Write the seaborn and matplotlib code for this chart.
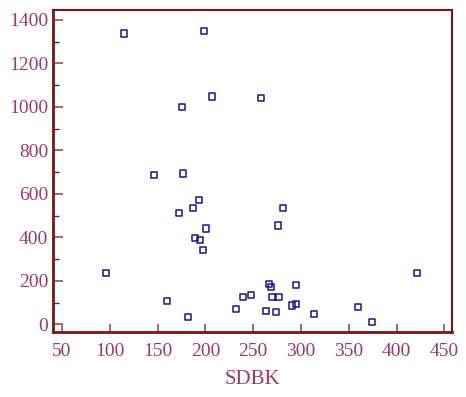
import numpy as np
import seaborn as sns
import matplotlib.pyplot as plt
from matplotlib.ticker import MultipleLocator

# SDBK vs value
sdbk = [114.9, 198.6, 207.3, 175.2, 257.9, 145.9, 176.3, 193.0, 187.4, 172.7,
        201.0, 188.8, 194.4, 197.5, 95.7, 159.5, 181.8, 232.0, 281.6, 275.6,
        421.1, 266.6, 268.7, 295.1, 239.4, 248.1, 270.3, 276.6, 290.5, 294.5,
        263.1, 273.9, 313.7, 359.7, 374.0]
vals = [1337, 1349, 1047, 998, 1040, 688, 693, 573, 536, 511,
        440, 398, 386, 342, 237, 106, 35, 72, 536, 454,
        235, 184, 172, 181, 127, 135, 127, 127, 86, 93,
        61, 57, 49, 81, 11]

x_ticks = [50, 100, 150, 200, 250, 300, 350, 400, 450]
y_ticks = [0, 200, 400, 600, 800, 1000, 1200, 1400]

sns.set_theme(style="white")
plt.rcParams['font.family'] = ['Liberation Serif', 'DejaVu Serif']

txt_col = '#9b3a6a'
spine_col = '#7a1515'
tick_col = '#a84a5a'

fig = plt.figure(figsize=(4.66, 3.97), dpi=100)
ax = fig.add_axes([0.1137, 0.1645, 0.8556, 0.8103])

sns.scatterplot(x=sdbk, y=vals, marker='s', s=20, facecolors='none',
                edgecolor='#15158f', linewidth=1.1, ax=ax)

ax.set_xlim(40.6, 457.7)
ax.set_ylim(-34, 1445)
ax.set_xticks(x_ticks)
ax.set_yticks(y_ticks)
ax.yaxis.set_minor_locator(MultipleLocator(100))

ax.tick_params(axis='both', which='major', direction='in', length=7, width=1.2,
               colors=tick_col, labelcolor=txt_col, labelsize=14, pad=3.5)
ax.tick_params(axis='x', which='major', length=6, bottom=True, pad=8)
ax.tick_params(axis='y', which='major', left=True)
ax.tick_params(axis='y', which='minor', direction='in', length=4, width=1.0,
               colors=spine_col, left=True)

for side in ['left', 'bottom']:
    ax.spines[side].set_color(spine_col)
    ax.spines[side].set_linewidth(2.0)
for side in ['top', 'right']:
    ax.spines[side].set_color(spine_col)
    ax.spines[side].set_linewidth(1.5)

ax.set_xlabel('SDBK', color=txt_col, fontsize=15, labelpad=7)
ax.set_ylabel('')

fig.savefig('out.png', dpi=100)
